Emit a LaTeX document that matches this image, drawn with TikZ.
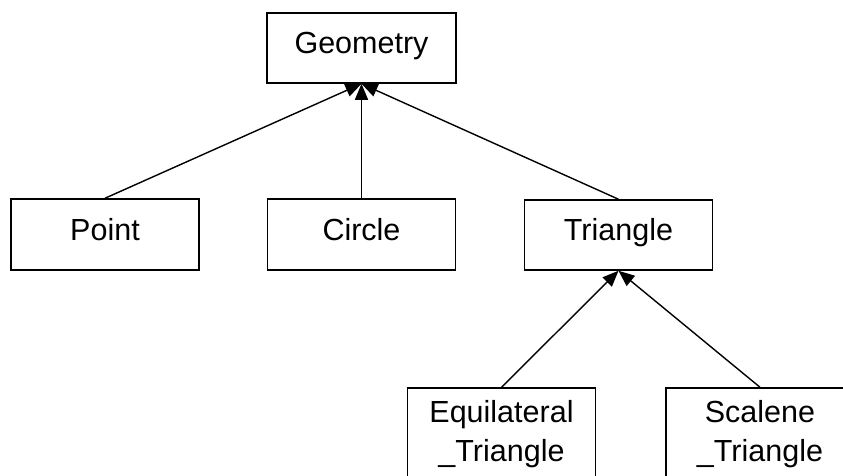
\documentclass[tikz,border=0pt]{standalone}
\usepackage{fontspec}
\setmainfont{Liberation Sans}
\usetikzlibrary{arrows.meta}
\begin{document}
\begin{tikzpicture}[x=1pt,y=-1pt,
  classbox/.style={draw, line width=1.5pt, inner sep=0pt, font=\fontsize{30.5}{39}\selectfont, align=center},
  topbox/.style={classbox, minimum width=189pt, minimum height=70pt, text height=18pt, text depth=7pt},
  lowbox/.style={classbox, minimum width=188pt, minimum height=92pt},
  inherit/.style={line width=1.4pt, -{Triangle[length=16pt,width=13pt]}}]
\useasboundingbox (0,0) rectangle (843,475);
\clip (0,0) rectangle (843,475);
\node[topbox] (geometry) at (361.5,48) {Geometry};
\node[topbox, minimum width=188pt, minimum height=71pt] (point) at (105,234.5) {Point};
\node[topbox, minimum width=188pt, minimum height=71pt] (circle) at (361.5,234.5) {Circle};
\node[topbox, minimum width=188pt] (triangle) at (618.5,235) {Triangle};
\node[lowbox] (equi) at (501.5,434) {Equilateral\\\_Triangle};
\node[lowbox] (scalene) at (760,434) {Scalene\\\_Triangle};
\draw[inherit] (point.north) -- (geometry.south);
\draw[inherit] (circle.north) -- (geometry.south);
\draw[inherit] (triangle.north) -- (geometry.south);
\draw[inherit] (equi.north) -- (triangle.south);
\draw[inherit] (scalene.north) -- (triangle.south);
\end{tikzpicture}
\end{document}
